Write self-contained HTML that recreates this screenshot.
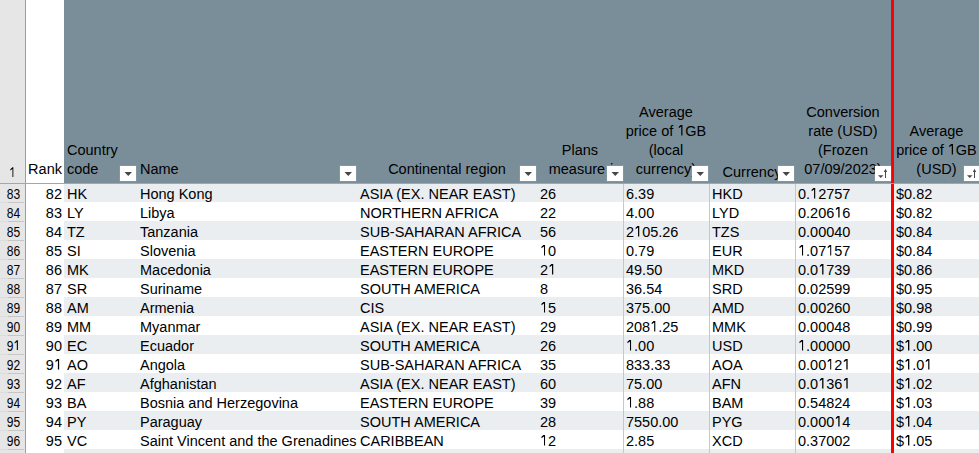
<!DOCTYPE html>
<html><head><meta charset="utf-8"><style>
html,body{margin:0;padding:0;width:979px;height:453px;overflow:hidden;background:#fff;}
body{position:relative;font-family:"Liberation Sans",sans-serif;font-size:15.5px;color:#000;}
.a{position:absolute;}
#tl{position:absolute;left:0;top:0;width:1046.50px;height:453px;transform:scaleX(0.9355);transform-origin:0 0;}
.t{position:absolute;white-space:nowrap;line-height:19px;height:19px;}
.r{text-align:right;}
.o{position:relative;color:transparent;}
.o::after{content:'';position:absolute;left:0;width:0.4em;top:0.195em;height:0.711em;background:#000;clip-path:polygon(68.8% 0.0%,91.2% 0.0%,91.2% 100.0%,68.8% 100.0%,68.8% 18.2%,25.0% 34.2%,25.0% 19.6%);}
.c{text-align:center;}
.rh{position:absolute;left:0;width:25px;text-align:center;font-size:14px;line-height:19px;transform:scaleX(0.86);}
.btn{position:absolute;width:16px;height:15px;background:#fff;box-shadow:0 0 0 1px rgba(255,255,255,0.08);}
.btn i{position:absolute;left:4.2px;top:6px;width:0;height:0;border-left:3.8px solid transparent;border-right:3.8px solid transparent;border-top:4.3px solid #464646;}
</style></head><body>

<div class="a" style="left:0;top:0;width:25px;height:453px;background:#e6e6e6"></div>
<div class="a" style="left:25px;top:0;width:1px;height:453px;background:#9c9c9c"></div>
<div class="a" style="left:64px;top:0;width:915px;height:183px;background:#7a8e99"></div>
<div class="a" style="left:64px;top:183px;width:915px;height:19px;background:#eaeef1"></div>
<div class="a" style="left:0;top:202px;width:8px;height:1px;background:#dcdcdc"></div>
<div class="a" style="left:8px;top:202px;width:16px;height:1px;background:#c6c6c6"></div>
<div class="a" style="left:0;top:221px;width:8px;height:1px;background:#dcdcdc"></div>
<div class="a" style="left:8px;top:221px;width:16px;height:1px;background:#c6c6c6"></div>
<div class="a" style="left:64px;top:221px;width:915px;height:19px;background:#eaeef1"></div>
<div class="a" style="left:0;top:240px;width:8px;height:1px;background:#dcdcdc"></div>
<div class="a" style="left:8px;top:240px;width:16px;height:1px;background:#c6c6c6"></div>
<div class="a" style="left:0;top:259px;width:8px;height:1px;background:#dcdcdc"></div>
<div class="a" style="left:8px;top:259px;width:16px;height:1px;background:#c6c6c6"></div>
<div class="a" style="left:64px;top:259px;width:915px;height:19px;background:#eaeef1"></div>
<div class="a" style="left:0;top:278px;width:8px;height:1px;background:#dcdcdc"></div>
<div class="a" style="left:8px;top:278px;width:16px;height:1px;background:#c6c6c6"></div>
<div class="a" style="left:0;top:297px;width:8px;height:1px;background:#dcdcdc"></div>
<div class="a" style="left:8px;top:297px;width:16px;height:1px;background:#c6c6c6"></div>
<div class="a" style="left:64px;top:297px;width:915px;height:19px;background:#eaeef1"></div>
<div class="a" style="left:0;top:316px;width:8px;height:1px;background:#dcdcdc"></div>
<div class="a" style="left:8px;top:316px;width:16px;height:1px;background:#c6c6c6"></div>
<div class="a" style="left:0;top:335px;width:8px;height:1px;background:#dcdcdc"></div>
<div class="a" style="left:8px;top:335px;width:16px;height:1px;background:#c6c6c6"></div>
<div class="a" style="left:64px;top:335px;width:915px;height:19px;background:#eaeef1"></div>
<div class="a" style="left:0;top:354px;width:8px;height:1px;background:#dcdcdc"></div>
<div class="a" style="left:8px;top:354px;width:16px;height:1px;background:#c6c6c6"></div>
<div class="a" style="left:0;top:373px;width:8px;height:1px;background:#dcdcdc"></div>
<div class="a" style="left:8px;top:373px;width:16px;height:1px;background:#c6c6c6"></div>
<div class="a" style="left:64px;top:373px;width:915px;height:19px;background:#eaeef1"></div>
<div class="a" style="left:0;top:392px;width:8px;height:1px;background:#dcdcdc"></div>
<div class="a" style="left:8px;top:392px;width:16px;height:1px;background:#c6c6c6"></div>
<div class="a" style="left:0;top:411px;width:8px;height:1px;background:#dcdcdc"></div>
<div class="a" style="left:8px;top:411px;width:16px;height:1px;background:#c6c6c6"></div>
<div class="a" style="left:64px;top:411px;width:915px;height:19px;background:#eaeef1"></div>
<div class="a" style="left:0;top:430px;width:8px;height:1px;background:#dcdcdc"></div>
<div class="a" style="left:8px;top:430px;width:16px;height:1px;background:#c6c6c6"></div>
<div class="a" style="left:0;top:449px;width:8px;height:1px;background:#dcdcdc"></div>
<div class="a" style="left:8px;top:449px;width:16px;height:1px;background:#c6c6c6"></div>
<div class="a" style="left:64px;top:449px;width:915px;height:19px;background:#eaeef1"></div>
<div class="a" style="left:0;top:468px;width:8px;height:1px;background:#dcdcdc"></div>
<div class="a" style="left:8px;top:468px;width:16px;height:1px;background:#c6c6c6"></div>
<div class="a" style="left:623px;top:184px;width:1px;height:269px;background:#b8d4ad"></div>
<div class="a" style="left:709px;top:184px;width:1px;height:269px;background:#b8d4ad"></div>
<div class="a" style="left:795px;top:184px;width:1px;height:269px;background:#b8d4ad"></div>
<div class="a" style="left:891px;top:0;width:3px;height:453px;background:#ff0000"></div>
<div class="a" style="left:0;top:183px;width:979px;height:1px;background:#a6a6a6"></div>
<div class="rh" style="left:-0.5px;top:163.5px"><span class="o">1</span></div>
<div class="rh" style="left:0.5px;top:184.5px">83</div>
<div class="rh" style="left:0.5px;top:203.5px">84</div>
<div class="rh" style="left:0.5px;top:222.5px">85</div>
<div class="rh" style="left:0.5px;top:241.5px">86</div>
<div class="rh" style="left:0.5px;top:260.5px">87</div>
<div class="rh" style="left:0.5px;top:279.5px">88</div>
<div class="rh" style="left:0.5px;top:298.5px">89</div>
<div class="rh" style="left:0.5px;top:317.5px">90</div>
<div class="rh" style="left:0.5px;top:336.5px">9<span class="o">1</span></div>
<div class="rh" style="left:0.5px;top:355.5px">92</div>
<div class="rh" style="left:0.5px;top:374.5px">93</div>
<div class="rh" style="left:0.5px;top:393.5px">94</div>
<div class="rh" style="left:0.5px;top:412.5px">95</div>
<div class="rh" style="left:0.5px;top:431.5px">96</div>
<div id="tl">
<div class="t r" style="left:27.79px;width:38.48px;top:183.5px">82</div>
<div class="t" style="left:71.62px;top:183.5px">HK</div>
<div class="t" style="left:149.65px;top:183.5px">Hong Kong</div>
<div class="t" style="left:384.82px;top:183.5px">ASIA (EX. NEAR EAST)</div>
<div class="t" style="left:577.23px;top:183.5px">26</div>
<div class="t" style="left:669.16px;top:183.5px">6.39</div>
<div class="t" style="left:761.09px;top:183.5px">HKD</div>
<div class="t" style="left:853.02px;top:183.5px">0.<span class="o">1</span>2757</div>
<div class="t" style="left:957.78px;top:183.5px">$0.82</div>
<div class="t r" style="left:27.79px;width:38.48px;top:202.5px">83</div>
<div class="t" style="left:71.62px;top:202.5px">LY</div>
<div class="t" style="left:149.65px;top:202.5px">Libya</div>
<div class="t" style="left:384.82px;top:202.5px">NORTHERN AFRICA</div>
<div class="t" style="left:577.23px;top:202.5px">22</div>
<div class="t" style="left:669.16px;top:202.5px">4.00</div>
<div class="t" style="left:761.09px;top:202.5px">LYD</div>
<div class="t" style="left:853.02px;top:202.5px">0.206<span class="o">1</span>6</div>
<div class="t" style="left:957.78px;top:202.5px">$0.82</div>
<div class="t r" style="left:27.79px;width:38.48px;top:221.5px">84</div>
<div class="t" style="left:71.62px;top:221.5px">TZ</div>
<div class="t" style="left:149.65px;top:221.5px">Tanzania</div>
<div class="t" style="left:384.82px;top:221.5px">SUB-SAHARAN AFRICA</div>
<div class="t" style="left:577.23px;top:221.5px">56</div>
<div class="t" style="left:669.16px;top:221.5px">2<span class="o">1</span>05.26</div>
<div class="t" style="left:761.09px;top:221.5px">TZS</div>
<div class="t" style="left:853.02px;top:221.5px">0.00040</div>
<div class="t" style="left:957.78px;top:221.5px">$0.84</div>
<div class="t r" style="left:27.79px;width:38.48px;top:240.5px">85</div>
<div class="t" style="left:71.62px;top:240.5px">SI</div>
<div class="t" style="left:149.65px;top:240.5px">Slovenia</div>
<div class="t" style="left:384.82px;top:240.5px">EASTERN EUROPE</div>
<div class="t" style="left:577.23px;top:240.5px"><span class="o">1</span>0</div>
<div class="t" style="left:669.16px;top:240.5px">0.79</div>
<div class="t" style="left:761.09px;top:240.5px">EUR</div>
<div class="t" style="left:853.02px;top:240.5px"><span class="o">1</span>.07<span class="o">1</span>57</div>
<div class="t" style="left:957.78px;top:240.5px">$0.84</div>
<div class="t r" style="left:27.79px;width:38.48px;top:259.5px">86</div>
<div class="t" style="left:71.62px;top:259.5px">MK</div>
<div class="t" style="left:149.65px;top:259.5px">Macedonia</div>
<div class="t" style="left:384.82px;top:259.5px">EASTERN EUROPE</div>
<div class="t" style="left:577.23px;top:259.5px">2<span class="o">1</span></div>
<div class="t" style="left:669.16px;top:259.5px">49.50</div>
<div class="t" style="left:761.09px;top:259.5px">MKD</div>
<div class="t" style="left:853.02px;top:259.5px">0.0<span class="o">1</span>739</div>
<div class="t" style="left:957.78px;top:259.5px">$0.86</div>
<div class="t r" style="left:27.79px;width:38.48px;top:278.5px">87</div>
<div class="t" style="left:71.62px;top:278.5px">SR</div>
<div class="t" style="left:149.65px;top:278.5px">Suriname</div>
<div class="t" style="left:384.82px;top:278.5px">SOUTH AMERICA</div>
<div class="t" style="left:577.23px;top:278.5px">8</div>
<div class="t" style="left:669.16px;top:278.5px">36.54</div>
<div class="t" style="left:761.09px;top:278.5px">SRD</div>
<div class="t" style="left:853.02px;top:278.5px">0.02599</div>
<div class="t" style="left:957.78px;top:278.5px">$0.95</div>
<div class="t r" style="left:27.79px;width:38.48px;top:297.5px">88</div>
<div class="t" style="left:71.62px;top:297.5px">AM</div>
<div class="t" style="left:149.65px;top:297.5px">Armenia</div>
<div class="t" style="left:384.82px;top:297.5px">CIS</div>
<div class="t" style="left:577.23px;top:297.5px"><span class="o">1</span>5</div>
<div class="t" style="left:669.16px;top:297.5px">375.00</div>
<div class="t" style="left:761.09px;top:297.5px">AMD</div>
<div class="t" style="left:853.02px;top:297.5px">0.00260</div>
<div class="t" style="left:957.78px;top:297.5px">$0.98</div>
<div class="t r" style="left:27.79px;width:38.48px;top:316.5px">89</div>
<div class="t" style="left:71.62px;top:316.5px">MM</div>
<div class="t" style="left:149.65px;top:316.5px">Myanmar</div>
<div class="t" style="left:384.82px;top:316.5px">ASIA (EX. NEAR EAST)</div>
<div class="t" style="left:577.23px;top:316.5px">29</div>
<div class="t" style="left:669.16px;top:316.5px">208<span class="o">1</span>.25</div>
<div class="t" style="left:761.09px;top:316.5px">MMK</div>
<div class="t" style="left:853.02px;top:316.5px">0.00048</div>
<div class="t" style="left:957.78px;top:316.5px">$0.99</div>
<div class="t r" style="left:27.79px;width:38.48px;top:335.5px">90</div>
<div class="t" style="left:71.62px;top:335.5px">EC</div>
<div class="t" style="left:149.65px;top:335.5px">Ecuador</div>
<div class="t" style="left:384.82px;top:335.5px">SOUTH AMERICA</div>
<div class="t" style="left:577.23px;top:335.5px">26</div>
<div class="t" style="left:669.16px;top:335.5px"><span class="o">1</span>.00</div>
<div class="t" style="left:761.09px;top:335.5px">USD</div>
<div class="t" style="left:853.02px;top:335.5px"><span class="o">1</span>.00000</div>
<div class="t" style="left:957.78px;top:335.5px">$<span class="o">1</span>.00</div>
<div class="t r" style="left:27.79px;width:38.48px;top:354.5px">9<span class="o">1</span></div>
<div class="t" style="left:71.62px;top:354.5px">AO</div>
<div class="t" style="left:149.65px;top:354.5px">Angola</div>
<div class="t" style="left:384.82px;top:354.5px">SUB-SAHARAN AFRICA</div>
<div class="t" style="left:577.23px;top:354.5px">35</div>
<div class="t" style="left:669.16px;top:354.5px">833.33</div>
<div class="t" style="left:761.09px;top:354.5px">AOA</div>
<div class="t" style="left:853.02px;top:354.5px">0.00<span class="o">1</span>2<span class="o">1</span></div>
<div class="t" style="left:957.78px;top:354.5px">$<span class="o">1</span>.0<span class="o">1</span></div>
<div class="t r" style="left:27.79px;width:38.48px;top:373.5px">92</div>
<div class="t" style="left:71.62px;top:373.5px">AF</div>
<div class="t" style="left:149.65px;top:373.5px">Afghanistan</div>
<div class="t" style="left:384.82px;top:373.5px">ASIA (EX. NEAR EAST)</div>
<div class="t" style="left:577.23px;top:373.5px">60</div>
<div class="t" style="left:669.16px;top:373.5px">75.00</div>
<div class="t" style="left:761.09px;top:373.5px">AFN</div>
<div class="t" style="left:853.02px;top:373.5px">0.0<span class="o">1</span>36<span class="o">1</span></div>
<div class="t" style="left:957.78px;top:373.5px">$<span class="o">1</span>.02</div>
<div class="t r" style="left:27.79px;width:38.48px;top:392.5px">93</div>
<div class="t" style="left:71.62px;top:392.5px">BA</div>
<div class="t" style="left:149.65px;top:392.5px">Bosnia and Herzegovina</div>
<div class="t" style="left:384.82px;top:392.5px">EASTERN EUROPE</div>
<div class="t" style="left:577.23px;top:392.5px">39</div>
<div class="t" style="left:669.16px;top:392.5px"><span class="o">1</span>.88</div>
<div class="t" style="left:761.09px;top:392.5px">BAM</div>
<div class="t" style="left:853.02px;top:392.5px">0.54824</div>
<div class="t" style="left:957.78px;top:392.5px">$<span class="o">1</span>.03</div>
<div class="t r" style="left:27.79px;width:38.48px;top:411.5px">94</div>
<div class="t" style="left:71.62px;top:411.5px">PY</div>
<div class="t" style="left:149.65px;top:411.5px">Paraguay</div>
<div class="t" style="left:384.82px;top:411.5px">SOUTH AMERICA</div>
<div class="t" style="left:577.23px;top:411.5px">28</div>
<div class="t" style="left:669.16px;top:411.5px">7550.00</div>
<div class="t" style="left:761.09px;top:411.5px">PYG</div>
<div class="t" style="left:853.02px;top:411.5px">0.000<span class="o">1</span>4</div>
<div class="t" style="left:957.78px;top:411.5px">$<span class="o">1</span>.04</div>
<div class="t r" style="left:27.79px;width:38.48px;top:430.5px">95</div>
<div class="t" style="left:71.62px;top:430.5px">VC</div>
<div class="t" style="left:149.65px;top:430.5px">Saint Vincent and the Grenadines</div>
<div class="t" style="left:384.82px;top:430.5px">CARIBBEAN</div>
<div class="t" style="left:577.23px;top:430.5px"><span class="o">1</span>2</div>
<div class="t" style="left:669.16px;top:430.5px">2.85</div>
<div class="t" style="left:761.09px;top:430.5px">XCD</div>
<div class="t" style="left:853.02px;top:430.5px">0.37002</div>
<div class="t" style="left:957.78px;top:430.5px">$<span class="o">1</span>.05</div>
<div class="t r" style="left:27.79px;width:38.48px;top:158.5px">Rank</div>
<div class="t " style="left:71.62px;width:74.83px;top:139.5px">Country</div>
<div class="t " style="left:71.62px;width:74.83px;top:158.5px">code</div>
<div class="t " style="left:149.65px;width:231.96px;top:158.5px">Name</div>
<div class="t c" style="left:381.61px;width:192.41px;top:158.5px">Continental region</div>
<div class="t c" style="left:574.02px;width:91.93px;top:139.5px">Plans</div>
<div class="t c" style="left:575.09px;width:91.93px;top:158.5px">measure<span style="display:inline-block;clip-path:inset(0 0 68% 0)">d</span></div>
<div class="t c" style="left:665.95px;width:91.93px;top:101.5px">Average</div>
<div class="t c" style="left:665.95px;width:91.93px;top:120.5px">price of <span class="o">1</span>GB</div>
<div class="t c" style="left:665.95px;width:91.93px;top:139.5px">(local</div>
<div class="t c" style="left:665.95px;width:91.93px;top:158.5px">currency)</div>
<div class="t c" style="left:757.88px;width:91.93px;top:161.5px">Currency</div>
<div class="t c" style="left:849.81px;width:102.62px;top:101.5px">Conversion</div>
<div class="t c" style="left:849.81px;width:102.62px;top:120.5px">rate (USD)</div>
<div class="t c" style="left:849.81px;width:102.62px;top:139.5px">(Frozen</div>
<div class="t c" style="left:849.81px;width:102.62px;top:158.5px">07/09/2023)</div>
<div class="t c" style="left:955.64px;width:90.86px;top:120.5px">Average</div>
<div class="t c" style="left:955.64px;width:90.86px;top:139.5px">price of <span class="o">1</span>GB</div>
<div class="t c" style="left:955.64px;width:90.86px;top:158.5px">(USD)</div>
</div>
<div class="btn" style="left:120px;top:166px"><svg width="16" height="15" style="position:absolute;left:0;top:0"><path d="M4.5 6 L12 6 L8.25 10 Z" fill="#464646"/></svg></div>
<div class="btn" style="left:340px;top:166px"><svg width="16" height="15" style="position:absolute;left:0;top:0"><path d="M4.5 6 L12 6 L8.25 10 Z" fill="#464646"/></svg></div>
<div class="btn" style="left:520px;top:166px"><svg width="16" height="15" style="position:absolute;left:0;top:0"><path d="M4.5 6 L12 6 L8.25 10 Z" fill="#464646"/></svg></div>
<div class="btn" style="left:607px;top:166px"><svg width="16" height="15" style="position:absolute;left:0;top:0"><path d="M4.5 6 L12 6 L8.25 10 Z" fill="#464646"/></svg></div>
<div class="btn" style="left:692px;top:166px"><svg width="16" height="15" style="position:absolute;left:0;top:0"><path d="M4.5 6 L12 6 L8.25 10 Z" fill="#464646"/></svg></div>
<div class="btn" style="left:778px;top:166px"><svg width="16" height="15" style="position:absolute;left:0;top:0"><path d="M4.5 6 L12 6 L8.25 10 Z" fill="#464646"/></svg></div>
<div class="btn" style="left:875px;top:166px"><svg width="16" height="15" style="position:absolute;left:0;top:0"><path d="M3 9.3 L8.5 9.3 L5.75 12 Z" fill="#4a4a4a"/><path d="M10.5 4.5 L10.5 12" stroke="#4a4a4a" stroke-width="1"/><path d="M8.8 6 L10.5 2.8 L12.2 6 Z" fill="#4a4a4a"/></svg></div>
<div class="btn" style="left:964px;top:166px"><svg width="16" height="15" style="position:absolute;left:0;top:0"><path d="M3 9.3 L8.5 9.3 L5.75 12 Z" fill="#4a4a4a"/><path d="M10.5 4.5 L10.5 12" stroke="#4a4a4a" stroke-width="1"/><path d="M8.8 6 L10.5 2.8 L12.2 6 Z" fill="#4a4a4a"/></svg></div>
</body></html>
